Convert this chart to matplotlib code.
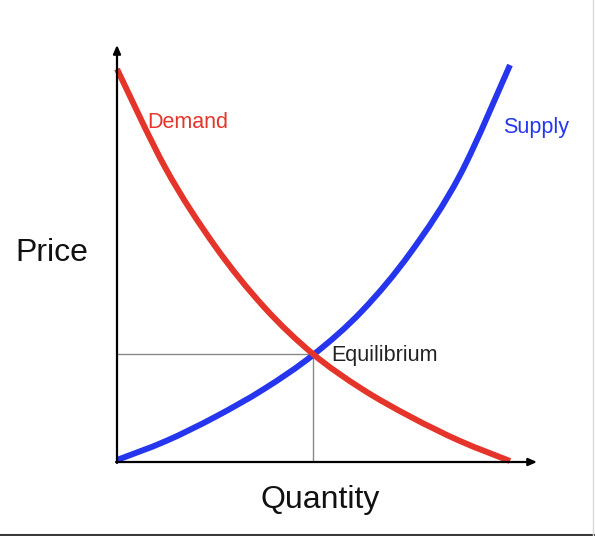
import matplotlib
matplotlib.use("Agg")
import matplotlib.pyplot as plt
from matplotlib.lines import Line2D
from matplotlib.path import Path
from matplotlib.patches import PathPatch

plt.rcParams['font.family'] = ['Liberation Sans', 'DejaVu Sans']

# Curve values (quantity, price), arbitrary units
quantity = [0, 49, 98, 147, 196, 245, 294, 343, 393]
demand_p = [393, 293, 216, 155, 108, 73, 45, 21, 1]
supply_p = [2, 21, 45, 73, 107, 151, 210, 287, 397]
eq_q, eq_p = 196, 108

W, H = 595, 536
fig = plt.figure(figsize=(W / 100, H / 100), dpi=100)
ax = fig.add_axes([117 / W, (H - 462) / H, 420 / W, 417 / H])
ax.set_xlim(0, 420)
ax.set_ylim(0, 417)
ax.axis('off')

red = '#e5352b'
blue = '#2536ee'


def smooth_path(xs, ys):
    """Catmull-Rom curve through the given points, as cubic Bezier path."""
    pts = list(zip(xs, ys))
    n = len(pts)
    verts = [pts[0]]
    codes = [Path.MOVETO]
    for i in range(n - 1):
        p0 = pts[i - 1] if i > 0 else pts[i]
        p1 = pts[i]
        p2 = pts[i + 1]
        p3 = pts[i + 2] if i + 2 < n else pts[i + 1]
        c1 = (p1[0] + (p2[0] - p0[0]) / 6, p1[1] + (p2[1] - p0[1]) / 6)
        c2 = (p2[0] - (p3[0] - p1[0]) / 6, p2[1] - (p3[1] - p1[1]) / 6)
        verts += [c1, c2, p2]
        codes += [Path.CURVE4] * 3
    return Path(verts, codes)


# guide lines
ax.plot([0, eq_q], [eq_p, eq_p], color='#8a8a8a', lw=1.0, zorder=1)
ax.plot([eq_q, eq_q], [0, eq_p], color='#8a8a8a', lw=1.0, zorder=1)

ax.add_patch(PathPatch(smooth_path(quantity, supply_p), fill=False,
                       edgecolor=blue, lw=4.3, capstyle='butt', zorder=2,
                       clip_on=False))
ax.add_patch(PathPatch(smooth_path(quantity, demand_p), fill=False,
                       edgecolor=red, lw=4.3, capstyle='butt', zorder=3,
                       clip_on=False))

# axes with arrows
arrow = dict(arrowstyle='-|>,head_length=0.5,head_width=0.22', color='black',
             lw=1.6, shrinkA=0, shrinkB=0)
ax.annotate('', xy=(420, 0), xytext=(-1, 0), arrowprops=arrow,
            annotation_clip=False, zorder=4)
ax.annotate('', xy=(0, 417), xytext=(0, -1), arrowprops=arrow,
            annotation_clip=False, zorder=4)

# texts
fig.text(52 / W, 1 - 253 / H, 'Price', fontsize=23, ha='center', va='center',
         color='#111111')
fig.text(320 / W, 1 - 500 / H, 'Quantity', fontsize=23, ha='center', va='center',
         color='#111111')
fig.text(147 / W, 1 - 123 / H, 'Demand', fontsize=15.5, ha='left', va='center',
         color=red)
fig.text(503 / W, 1 - 128 / H, 'Supply', fontsize=15.5, ha='left', va='center',
         color=blue)
fig.text(331 / W, 1 - 356 / H, 'Equilibrium', fontsize=15.5, ha='left',
         va='center', color='#222222')

# frame edges
fig.add_artist(Line2D([0, 1], [1.5 / H, 1.5 / H], color='#3a3a3a', lw=2.2,
                      transform=fig.transFigure))
fig.add_artist(Line2D([1 - 2.5 / W, 1 - 2.5 / W], [0, 1], color='#d8d8d8', lw=1,
                      transform=fig.transFigure))

fig.savefig('out.png', dpi=100)
